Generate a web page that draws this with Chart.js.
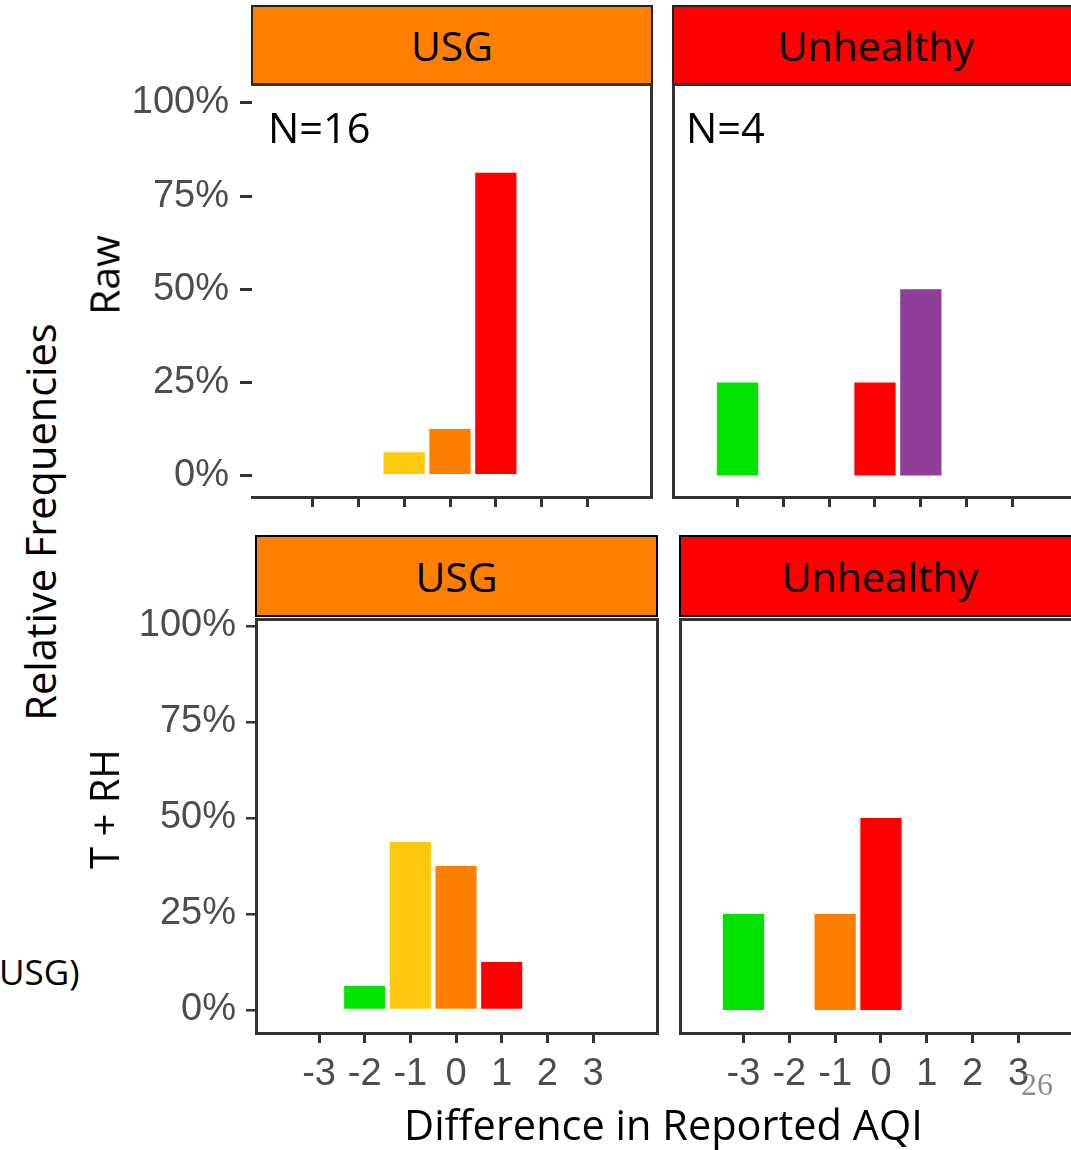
<!DOCTYPE html>
<html>
<head>
<meta charset="utf-8">
<script src="https://cdn.jsdelivr.net/npm/chart.js@4.4.1/dist/chart.umd.min.js"></script>
<style>
  html, body { margin: 0; padding: 0; background: #fff; overflow: hidden; }
  body { width: 1071px; height: 1150px; position: relative; font-family: "Open Sans", Lato, sans-serif; color: #000; }
  canvas { position: absolute; }
  .strip { position: absolute; box-sizing: border-box; border: 2px solid #222; display: flex;
           align-items: center; justify-content: center; font-size: 41px; line-height: 1; white-space: nowrap; overflow: hidden; }
  .txt { position: absolute; white-space: nowrap; line-height: 1; }
  .rot { position: absolute; white-space: nowrap; line-height: 1; transform: translate(-50%, -50%) rotate(-90deg); }
</style>
</head>
<body>
<script>
// ---- data ----------------------------------------------------------------
// AQI categories in order; a bar is coloured by the category that was reported
const aqiCategories = ['Good', 'Moderate', 'USG', 'Unhealthy', 'Very Unhealthy'];

const diffTicks = [-3, -2, -1, 0, 1, 2, 3];        // difference in reported AQI category
const pctTicks = [0, 25, 50, 75, 100];             // relative frequency, %
const facetCategories = ['USG', 'Unhealthy'];      // true AQI category (columns)
const facetCounts = [16, 4];                       // sample size per column
const rowNames = ['Raw', 'T + RH'];                // correction applied (rows)

// Raw sensor data
const rawUsgDiff = [-1, 0, 1];
const rawUsgFreq = [6.25, 12.5, 81.25];
const rawUnhealthyDiff = [-3, 0, 1];
const rawUnhealthyFreq = [25, 25, 50];

// Temperature + relative humidity correction
const trhUsgDiff = [-2, -1, 0, 1];
const trhUsgFreq = [6.25, 43.75, 37.5, 12.5];
const trhUnhealthyDiff = [-3, -1, 0];
const trhUnhealthyFreq = [25, 25, 50];

// ---- styles --------------------------------------------------------------
const aqiColors = ['#00E400', '#FFC90E', '#FF7E00', '#FF0000', '#8F3F97'];
const stripColors = { USG: '#FF7F00', Unhealthy: '#FF0000' };
const INK = '#333333';
const TICK_TEXT = '#4D4D4D';
const TICK_FONT = { family: '"Liberation Sans", Arial, sans-serif', size: 38 };
const PAD_T = 30, PAD_R = 6;

// Draws the parts of the panel frame that the axes do not draw themselves
const panelFrame = {
  id: 'panelFrame',
  afterDraw(chart, args, opts) {
    const { ctx, chartArea: a } = chart;
    const l = Math.round(a.left) + 0.5, r = Math.round(a.right) + 0.5;
    const t = Math.round(a.top) + 0.5, b = Math.round(a.bottom) + 0.5;
    ctx.save();
    ctx.strokeStyle = opts.color;
    ctx.lineWidth = opts.width;
    ctx.lineCap = 'square';
    ctx.beginPath();
    if (opts.top) { ctx.moveTo(l, t); ctx.lineTo(r, t); }
    if (opts.right) { ctx.moveTo(r, t); ctx.lineTo(r, b); }
    ctx.stroke();
    ctx.restore();
  }
};

const panels = [
  { row: 0, col: 0, diff: rawUsgDiff, freq: rawUsgFreq,
    area: { l: 252, t: 84, r: 651, b: 497 }, xRange: [-4.32, 4.385], yRange: [-5.77, 105.1],
    axisW: 150, axisH: 16, yAxis: true, xLabels: false, leftLine: false, rightLine: true,
    yTickLen: 12, yPad: 11, yTickW: 3 },
  { row: 0, col: 1, diff: rawUnhealthyDiff, freq: rawUnhealthyFreq,
    area: { l: 673, t: 84, r: 1073, b: 497 }, xRange: [-4.407, 4.32], yRange: [-5.77, 105.1],
    axisW: 10, axisH: 16, yAxis: false, xLabels: false, leftLine: true, rightLine: true },
  { row: 1, col: 0, diff: trhUsgDiff, freq: trhUsgFreq,
    area: { l: 256, t: 619, r: 657, b: 1033 }, xRange: [-4.38, 4.401], yRange: [-5.99, 101.82],
    axisW: 150, axisH: 70, yAxis: true, xLabels: true, leftLine: true, rightLine: true,
    yTickLen: 10, yPad: 10, yTickW: 2.5 },
  { row: 1, col: 1, diff: trhUnhealthyDiff, freq: trhUnhealthyFreq,
    area: { l: 680, t: 619, r: 1080, b: 1033 }, xRange: [-4.385, 4.342], yRange: [-5.99, 101.82],
    axisW: 10, axisH: 70, yAxis: false, xLabels: true, leftLine: true, rightLine: true }
];

function addDiv(cls, text, css) {
  const d = document.createElement('div');
  d.className = cls;
  d.textContent = text;
  Object.assign(d.style, css);
  document.body.appendChild(d);
  return d;
}

// ---- facet strips --------------------------------------------------------
const stripBoxes = [
  { l: 251, t: 5, w: 402, h: 80 }, { l: 672, t: 5, w: 408, h: 80 },
  { l: 255, t: 535, w: 403, h: 82 }, { l: 679, t: 535, w: 402, h: 82 }
];
stripBoxes.forEach((s, i) => {
  const facet = facetCategories[i % 2];
  addDiv('strip', facet, {
    left: s.l + 'px', top: s.t + 'px', width: s.w + 'px', height: s.h + 'px',
    background: stripColors[facet], borderColor: i < 2 ? '#222' : '#000'
  });
});

// ---- panels --------------------------------------------------------------
panels.forEach(p => {
  const facet = facetCategories[p.col];
  const base = aqiCategories.indexOf(facet);
  const cv = document.createElement('canvas');
  const w = p.axisW + (p.area.r - p.area.l) + PAD_R;
  const h = PAD_T + (p.area.b - p.area.t) + p.axisH;
  cv.width = w; cv.height = h;
  Object.assign(cv.style, {
    left: (p.area.l - p.axisW) + 'px', top: (p.area.t - PAD_T) + 'px',
    width: w + 'px', height: h + 'px'
  });
  document.body.appendChild(cv);

  new Chart(cv, {
    type: 'bar',
    data: {
      datasets: [{
        data: p.diff.map((d, i) => ({ x: d, y: p.freq[i] })),
        backgroundColor: p.diff.map(d => aqiColors[base + d]),
        borderWidth: 0,
        barPercentage: 0.9,
        categoryPercentage: 1
      }]
    },
    options: {
      responsive: false,
      animation: false,
      devicePixelRatio: 1,
      layout: { padding: { top: PAD_T, right: PAD_R, left: 0, bottom: 0 } },
      plugins: {
        legend: { display: false },
        tooltip: { enabled: false },
        panelFrame: { color: INK, width: 3, top: true, right: p.rightLine }
      },
      scales: {
        x: {
          type: 'linear', offset: false,
          min: p.xRange[0], max: p.xRange[1],
          afterBuildTicks: s => { s.ticks = diffTicks.map(v => ({ value: v })); },
          afterFit: s => { s.height = p.axisH; s.paddingLeft = 0; s.paddingRight = 0; },
          grid: { offset: false, drawOnChartArea: false, drawTicks: true, tickLength: 10, lineWidth: 3, color: INK },
          border: { display: true, width: 3, color: INK },
          ticks: {
            display: p.xLabels, padding: 9, autoSkip: false, maxRotation: 0,
            font: TICK_FONT, color: TICK_TEXT, callback: v => String(v)
          }
        },
        y: {
          type: 'linear',
          min: p.yRange[0], max: p.yRange[1],
          afterBuildTicks: s => { s.ticks = pctTicks.map(v => ({ value: v })); },
          afterFit: s => { s.width = p.axisW; s.paddingTop = 0; s.paddingBottom = 0; },
          grid: { display: p.yAxis, drawOnChartArea: false, drawTicks: true,
                  tickLength: p.yTickLen || 10, lineWidth: p.yTickW || 3, color: INK },
          border: { display: p.leftLine, width: 3, color: INK },
          ticks: {
            display: p.yAxis, padding: p.yPad || 10, autoSkip: false,
            font: TICK_FONT, color: TICK_TEXT, callback: v => v + '%'
          }
        }
      }
    },
    plugins: [panelFrame]
  });
});

// ---- annotations and titles ---------------------------------------------
addDiv('txt', 'N=' + facetCounts[0], { left: '268px', top: '107px', fontSize: '41.5px' });
addDiv('txt', 'N=' + facetCounts[1], { left: '686px', top: '107px', fontSize: '41.5px' });

addDiv('rot', 'Relative Frequencies', { left: '41px', top: '522px', fontSize: '41.5px' });
addDiv('rot', rowNames[0], { left: '104px', top: '275px', fontSize: '41px' });
addDiv('rot', rowNames[1], { left: '104px', top: '809px', fontSize: '40px' });

addDiv('txt', 'Difference in Reported AQI',
  { left: '663.5px', top: '1104px', fontSize: '41.5px', transform: 'translateX(-50%)' });

addDiv('txt', 'USG)', { left: '-1px', top: '954px', fontSize: '35px' });
addDiv('txt', '26', { left: '1021px', top: '1068px', fontSize: '32px', color: '#8C8C8C',
  fontFamily: '"Liberation Serif", "Times New Roman", serif' });
</script>
</body>
</html>
